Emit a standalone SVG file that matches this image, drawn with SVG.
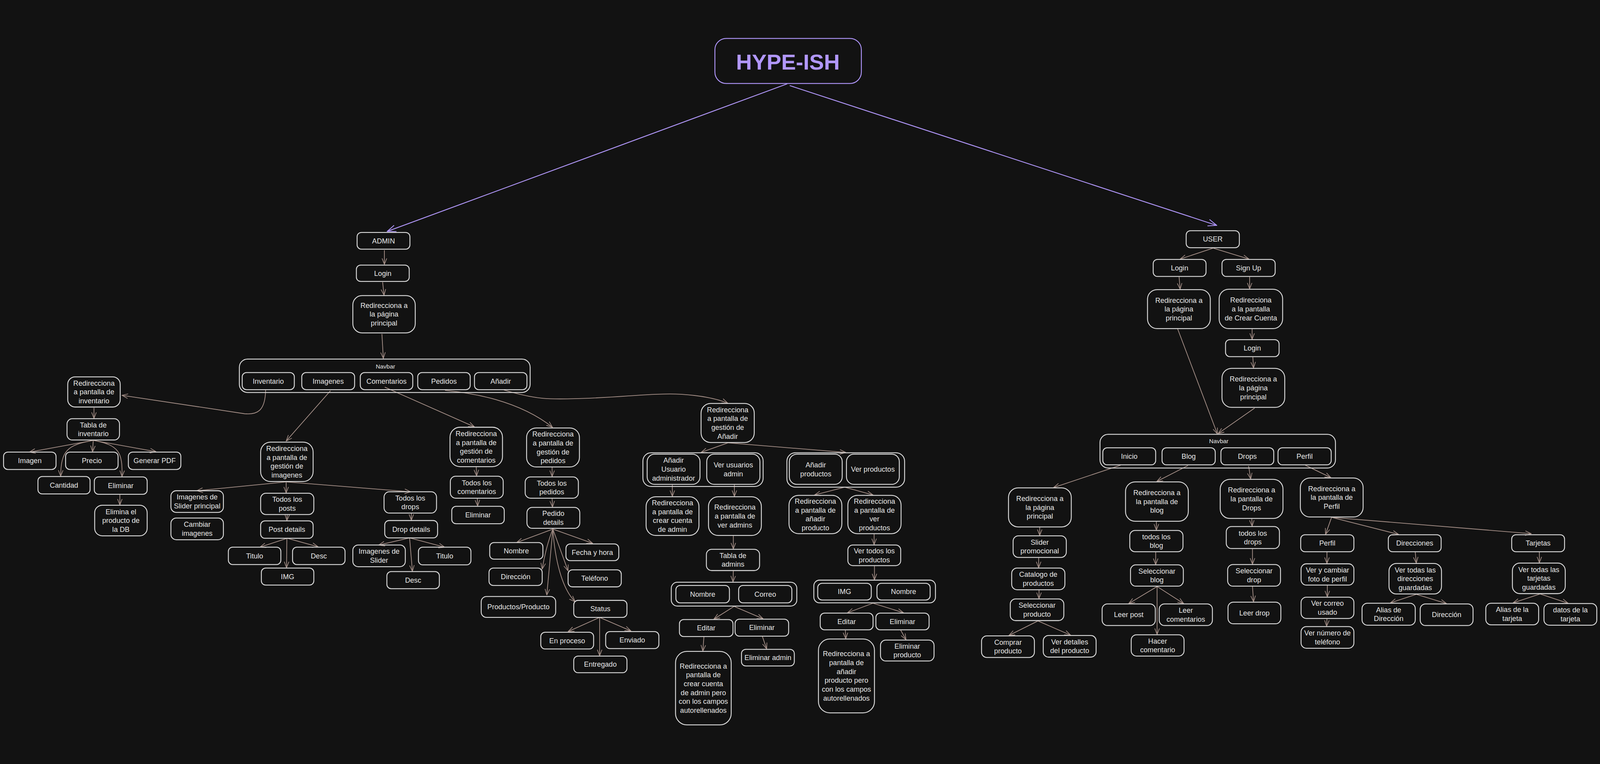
<svg xmlns="http://www.w3.org/2000/svg" width="4512" height="1955" viewBox="0 0 4512 1955">
<style>
svg{width:100%;height:100%;background:#121212}
.n{fill:none;stroke:#dcdcdc;stroke-width:2.5}
.t,.w{font-family:"Liberation Sans",Arial,sans-serif;font-size:20px;fill:#e8e8e8;text-anchor:middle}
.lbl{font-size:17px}
.c{fill:none;stroke:#a8928a;stroke-width:2;marker-end:url(#ah)}
.cp{fill:none;stroke:#b197fc;stroke-width:2.5;marker-end:url(#ahp)}
.ttl{fill:none;stroke:#b197fc;stroke-width:2.5}
.tt{font-family:"Liberation Sans",Arial,sans-serif;font-size:62px;font-weight:bold;fill:#b197fc;text-anchor:middle}
</style>
<defs>
<marker id="ah" viewBox="0 0 20 20" refX="19" refY="10" markerWidth="18" markerHeight="18" markerUnits="userSpaceOnUse" orient="auto"><path d="M1,3 L19,10 L1,17" fill="none" stroke="#a8928a" stroke-width="2" stroke-linecap="round"/></marker>
<marker id="ahp" viewBox="0 0 20 20" refX="19" refY="10" markerWidth="26" markerHeight="26" markerUnits="userSpaceOnUse" orient="auto"><path d="M1,3 L19,10 L1,17" fill="none" stroke="#b197fc" stroke-width="1.8" stroke-linecap="round"/></marker>
</defs>
<rect width="4512" height="1955" fill="#121212"/>

<g id="connectors">
<path class="cp" d="M2220,137 L1092,553"/>
<path class="cp" d="M2227,142 L3431,536"/>
<path class="c" d="M1084,606 L1084,646"/>
<path class="c" d="M1079,696 L1083,733"/>
<path class="c" d="M1077,842 L1081,911"/>
<path class="c" d="M749,1000 C748,1060 725,1070 690,1067 L344,1015"/>
<path class="c" d="M932,1002 L807,1144"/>
<path class="c" d="M1085,992 L1338,1104"/>
<path class="c" d="M1255,1001 Q1450,1020 1558,1105"/>
<path class="c" d="M1421,1000 C1520,1030 1560,1026 1640,1024 C1760,1020 1850,1008 1920,1012 C1980,1016 2020,1024 2052,1037"/>
<path class="c" d="M265,1050 L265,1080"/>
<path class="c" d="M263,1142 L83,1175"/>
<path class="c" d="M263,1142 C190,1155 172,1170 171,1243"/>
<path class="c" d="M263,1142 L261,1174"/>
<path class="c" d="M263,1142 C335,1155 346,1175 344,1244"/>
<path class="c" d="M263,1142 L440,1174"/>
<path class="c" d="M338,1295 L338,1324"/>
<path class="c" d="M807,1259 L555,1284"/>
<path class="c" d="M807,1259 L807,1290"/>
<path class="c" d="M807,1259 L1158,1287"/>
<path class="c" d="M810,1352 L809,1368"/>
<path class="c" d="M810,1418 L733,1443"/>
<path class="c" d="M810,1418 L897,1442"/>
<path class="c" d="M809,1418 L808,1501"/>
<path class="c" d="M1160,1347 L1160,1367"/>
<path class="c" d="M1155,1417 L1068,1437"/>
<path class="c" d="M1155,1417 L1254,1443"/>
<path class="c" d="M1155,1417 L1163,1511"/>
<path class="c" d="M1343,1216 L1344,1242"/>
<path class="c" d="M1346,1305 L1347,1327"/>
<path class="c" d="M1557,1217 L1557,1244"/>
<path class="c" d="M1557,1305 L1558,1330"/>
<path class="c" d="M1559,1392 L1457,1430"/>
<path class="c" d="M1559,1392 Q1540,1440 1529,1505"/>
<path class="c" d="M1559,1392 L1542,1578"/>
<path class="c" d="M1559,1392 C1565,1480 1585,1560 1622,1597"/>
<path class="c" d="M1559,1392 Q1580,1450 1602,1510"/>
<path class="c" d="M1559,1392 L1671,1432"/>
<path class="c" d="M1691,1641 L1602,1681"/>
<path class="c" d="M1691,1641 L1691,1749"/>
<path class="c" d="M1691,1641 L1779,1679"/>
<path class="c" d="M2053,1149 L1977,1176"/>
<path class="c" d="M2053,1149 L2385,1176"/>
<path class="c" d="M1896,1267 L1896,1300"/>
<path class="c" d="M2071,1267 L2071,1300"/>
<path class="c" d="M2068,1411 L2068,1448"/>
<path class="c" d="M2068,1510 L2067,1541"/>
<path class="c" d="M2070,1610 L2013,1646"/>
<path class="c" d="M2070,1610 L2152,1645"/>
<path class="c" d="M1985,1696 L1982,1736"/>
<path class="c" d="M2150,1695 L2162,1730"/>
<path class="c" d="M2382,1274 L2297,1296"/>
<path class="c" d="M2382,1274 L2462,1296"/>
<path class="c" d="M2465,1406 L2465,1436"/>
<path class="c" d="M2466,1496 L2466,1535"/>
<path class="c" d="M2462,1601 L2390,1628"/>
<path class="c" d="M2462,1601 L2548,1628"/>
<path class="c" d="M2384,1677 L2385,1701"/>
<path class="c" d="M2540,1677 L2555,1704"/>
<path class="c" d="M3421,600 L3328,631"/>
<path class="c" d="M3421,600 L3522,631"/>
<path class="c" d="M3325,681 L3328,716"/>
<path class="c" d="M3524,681 L3524,715"/>
<path class="c" d="M3531,828 L3531,857"/>
<path class="c" d="M3533,907 L3535,938"/>
<path class="c" d="M3321,828 L3433,1124"/>
<path class="c" d="M3538,1051 L3435,1123"/>
<path class="c" d="M3160,1212 L2971,1275"/>
<path class="c" d="M3350,1213 L3262,1258"/>
<path class="c" d="M3521,1214 L3527,1251"/>
<path class="c" d="M3681,1212 L3753,1247"/>
<path class="c" d="M2932,1387 L2932,1410"/>
<path class="c" d="M2929,1473 L2929,1501"/>
<path class="c" d="M2930,1564 L2930,1588"/>
<path class="c" d="M2927,1651 L2845,1692"/>
<path class="c" d="M2927,1651 L3019,1691"/>
<path class="c" d="M3261,1371 L3261,1395"/>
<path class="c" d="M3259,1457 L3259,1492"/>
<path class="c" d="M3263,1554 L3183,1602"/>
<path class="c" d="M3263,1554 L3338,1602"/>
<path class="c" d="M3263,1554 L3263,1689"/>
<path class="c" d="M3530,1363 L3531,1384"/>
<path class="c" d="M3532,1448 L3532,1491"/>
<path class="c" d="M3532,1554 L3535,1597"/>
<path class="c" d="M3755,1359 L3738,1407"/>
<path class="c" d="M3755,1359 L3944,1407"/>
<path class="c" d="M3755,1359 L4318,1405"/>
<path class="c" d="M3742,1457 L3742,1489"/>
<path class="c" d="M3743,1551 L3743,1583"/>
<path class="c" d="M3742,1645 L3741,1666"/>
<path class="c" d="M3991,1457 L3994,1488"/>
<path class="c" d="M3994,1576 L3921,1600"/>
<path class="c" d="M3994,1576 L4079,1602"/>
<path class="c" d="M4341,1457 L4341,1487"/>
<path class="c" d="M4343,1575 L4267,1600"/>
<path class="c" d="M4343,1575 L4422,1601"/>
</g>

<g id="title"><rect class="ttl" x="2016" y="9" width="413" height="127" rx="32"/><text class="tt" x="2222" y="97">HYPE-ISH</text></g>

<!-- ADMIN side -->
<g id="admin"><rect class="n" x="1007" y="556" width="149" height="47" rx="12"/><text class="t" x="1081.5" y="586.5">ADMIN</text></g>
<g id="admin-login"><rect class="n" x="1005" y="648" width="149" height="46" rx="12"/><text class="t" x="1079.5" y="678">Login</text></g>
<g id="admin-redir-pp"><rect class="n" x="995" y="734" width="176" height="105" rx="26"/><text class="t" y="768.5"><tspan x="1083">Redirecciona a</tspan><tspan x="1083" dy="25">la página</tspan><tspan x="1083" dy="25">principal</tspan></text></g>
<g id="admin-navbar"><rect class="n" x="675" y="913" width="820" height="94" rx="23"/><text class="t lbl" x="1087" y="939">Navbar</text></g>
<g id="nav-inventario"><rect class="n" x="683" y="951" width="147" height="48" rx="12"/><text class="t" x="756.5" y="982">Inventario</text></g>
<g id="nav-imagenes"><rect class="n" x="851" y="951" width="149" height="48" rx="12"/><text class="t" x="925.5" y="982">Imagenes</text></g>
<g id="nav-comentarios"><rect class="n" x="1016" y="951" width="148" height="48" rx="12"/><text class="t" x="1090" y="982">Comentarios</text></g>
<g id="nav-pedidos"><rect class="n" x="1178" y="951" width="148" height="48" rx="12"/><text class="t" x="1252" y="982">Pedidos</text></g>
<g id="nav-anadir"><rect class="n" x="1338" y="951" width="148" height="48" rx="12"/><text class="t" x="1412" y="982">Añadir</text></g>

<g id="redir-inventario"><rect class="n" x="191" y="963" width="148" height="85" rx="21"/><text class="t" y="987.5"><tspan x="265">Redirecciona</tspan><tspan x="265" dy="25">a pantalla de</tspan><tspan x="265" dy="25">inventario</tspan></text></g>
<g id="tabla-inventario"><rect class="n" x="189" y="1081" width="148" height="60" rx="15"/><text class="t" y="1105.5"><tspan x="263">Tabla de</tspan><tspan x="263" dy="25">inventario</tspan></text></g>
<g id="inv-imagen"><rect class="n" x="10" y="1175" width="148" height="49" rx="12"/><text class="t" x="84" y="1206.5">Imagen</text></g>
<g id="inv-precio"><rect class="n" x="185" y="1175" width="148" height="49" rx="12"/><text class="t" x="259" y="1206.5">Precio</text></g>
<g id="inv-pdf"><rect class="n" x="362" y="1175" width="148" height="49" rx="12"/><text class="t" x="436" y="1206.5">Generar PDF</text></g>
<g id="inv-cantidad"><rect class="n" x="107" y="1244" width="147" height="49" rx="12"/><text class="t" x="180.5" y="1275.5">Cantidad</text></g>
<g id="inv-eliminar"><rect class="n" x="266" y="1245" width="149" height="49" rx="12"/><text class="t" x="340.5" y="1276.5">Eliminar</text></g>
<g id="inv-elimina-db"><rect class="n" x="267" y="1325" width="148" height="86" rx="21"/><text class="t" y="1350"><tspan x="341">Elimina el</tspan><tspan x="341" dy="25">producto de</tspan><tspan x="341" dy="25">la DB</tspan></text></g>

<g id="redir-imagenes"><rect class="n" x="735" y="1147" width="148" height="111" rx="28"/><text class="t" y="1172"><tspan x="809">Redirecciona</tspan><tspan x="809" dy="25">a pantalla de</tspan><tspan x="809" dy="25">gestión de</tspan><tspan x="809" dy="25">imagenes</tspan></text></g>
<g id="img-slider"><rect class="n" x="482" y="1284" width="148" height="61" rx="15"/><text class="t" y="1309"><tspan x="556">Imagenes de</tspan><tspan x="556" dy="25">Slider principal</tspan></text></g>
<g id="img-cambiar"><rect class="n" x="482" y="1361" width="148" height="61" rx="15"/><text class="t" y="1386"><tspan x="556">Cambiar</tspan><tspan x="556" dy="25">imagenes</tspan></text></g>
<g id="img-posts"><rect class="n" x="735" y="1291" width="150" height="60" rx="15"/><text class="t" y="1315.5"><tspan x="810">Todos los</tspan><tspan x="810" dy="25">posts</tspan></text></g>
<g id="post-details"><rect class="n" x="735" y="1369" width="148" height="49" rx="12"/><text class="t" x="809" y="1400.5">Post details</text></g>
<g id="post-titulo"><rect class="n" x="644" y="1443" width="148" height="49" rx="12"/><text class="t" x="718" y="1474.5">Titulo</text></g>
<g id="post-desc"><rect class="n" x="825" y="1443" width="148" height="49" rx="12"/><text class="t" x="899" y="1474.5">Desc</text></g>
<g id="post-img"><rect class="n" x="737" y="1502" width="148" height="48" rx="12"/><text class="t" x="811" y="1533">IMG</text></g>
<g id="img-drops"><rect class="n" x="1083" y="1287" width="148" height="60" rx="15"/><text class="t" y="1311.5"><tspan x="1157">Todos los</tspan><tspan x="1157" dy="25">drops</tspan></text></g>
<g id="drop-details"><rect class="n" x="1085" y="1368" width="149" height="49" rx="12"/><text class="t" x="1159.5" y="1399.5">Drop details</text></g>
<g id="drop-slider"><rect class="n" x="995" y="1437" width="148" height="61" rx="15"/><text class="t" y="1462"><tspan x="1069">Imagenes de</tspan><tspan x="1069" dy="25">Slider</tspan></text></g>
<g id="drop-titulo"><rect class="n" x="1180" y="1443" width="148" height="50" rx="12"/><text class="t" x="1254" y="1475">Titulo</text></g>
<g id="drop-desc"><rect class="n" x="1091" y="1512" width="148" height="48" rx="12"/><text class="t" x="1165" y="1543">Desc</text></g>

<g id="redir-comentarios"><rect class="n" x="1269" y="1105" width="148" height="111" rx="28"/><text class="t" y="1130"><tspan x="1343">Redirecciona</tspan><tspan x="1343" dy="25">a pantalla de</tspan><tspan x="1343" dy="25">gestión de</tspan><tspan x="1343" dy="25">comentarios</tspan></text></g>
<g id="todos-comentarios"><rect class="n" x="1270" y="1243" width="149" height="62" rx="15"/><text class="t" y="1268.5"><tspan x="1344.5">Todos los</tspan><tspan x="1344.5" dy="25">comentarios</tspan></text></g>
<g id="coment-eliminar"><rect class="n" x="1274" y="1328" width="148" height="49" rx="12"/><text class="t" x="1348" y="1359.5">Eliminar</text></g>

<g id="redir-pedidos"><rect class="n" x="1485" y="1107" width="149" height="110" rx="27"/><text class="w" y="1131.5"><tspan x="1559.5">Redirecciona</tspan><tspan x="1559.5" dy="25">a pantalla de</tspan><tspan x="1559.5" dy="25">gestión de</tspan><tspan x="1559.5" dy="25">pedidos</tspan></text></g>
<g id="todos-pedidos"><rect class="n" x="1481" y="1245" width="150" height="60" rx="15"/><text class="w" y="1269.5"><tspan x="1556">Todos los</tspan><tspan x="1556" dy="25">pedidos</tspan></text></g>
<g id="pedido-details"><rect class="n" x="1486" y="1331" width="149" height="59" rx="15"/><text class="w" y="1355"><tspan x="1560.5">Pedido</tspan><tspan x="1560.5" dy="25">details</tspan></text></g>
<g id="ped-nombre"><rect class="n" x="1381" y="1430" width="150" height="47" rx="12"/><text class="w" x="1456" y="1460.5">Nombre</text></g>
<g id="ped-direccion"><rect class="n" x="1379" y="1502" width="150" height="49" rx="12"/><text class="w" x="1454" y="1533.5">Dirección</text></g>
<g id="ped-productos"><rect class="n" x="1357" y="1582" width="210" height="59" rx="15"/><text class="w" x="1462" y="1618.5">Productos/Producto</text></g>
<g id="ped-fecha"><rect class="n" x="1596" y="1434" width="149" height="47" rx="12"/><text class="w" x="1670.5" y="1464.5">Fecha y hora</text></g>
<g id="ped-telefono"><rect class="n" x="1602" y="1507" width="150" height="48" rx="12"/><text class="w" x="1677" y="1538">Teléfono</text></g>
<g id="ped-status"><rect class="n" x="1618" y="1593" width="150" height="48" rx="12"/><text class="w" x="1693" y="1624">Status</text></g>
<g id="st-proceso"><rect class="n" x="1525" y="1683" width="149" height="47" rx="12"/><text class="w" x="1599.5" y="1713.5">En proceso</text></g>
<g id="st-enviado"><rect class="n" x="1708" y="1681" width="150" height="48" rx="12"/><text class="w" x="1783" y="1712">Enviado</text></g>
<g id="st-entregado"><rect class="n" x="1618" y="1750" width="150" height="47" rx="12"/><text class="w" x="1693" y="1780.5">Entregado</text></g>

<g id="redir-anadir"><rect class="n" x="1977" y="1038" width="150" height="110" rx="27"/><text class="w" y="1062.5"><tspan x="2052">Redirecciona</tspan><tspan x="2052" dy="25">a pantalla de</tspan><tspan x="2052" dy="25">gestión de</tspan><tspan x="2052" dy="25">Añadir</tspan></text></g>
<g id="grupo-usuarios"><rect class="n" x="1813" y="1177" width="339" height="95" rx="23"/></g>
<g id="anadir-usuario"><rect class="n" x="1825" y="1181" width="149" height="85" rx="21"/><text class="w" y="1205.5"><tspan x="1899.5">Añadir</tspan><tspan x="1899.5" dy="25">Usuario</tspan><tspan x="1899.5" dy="25">administrador</tspan></text></g>
<g id="ver-usuarios"><rect class="n" x="1993" y="1181" width="150" height="85" rx="21"/><text class="w" y="1218"><tspan x="2068">Ver usuarios</tspan><tspan x="2068" dy="25">admin</tspan></text></g>
<g id="redir-crear-admin"><rect class="n" x="1822" y="1301" width="149" height="109" rx="27"/><text class="w" y="1325"><tspan x="1896.5">Redirecciona</tspan><tspan x="1896.5" dy="25">a pantalla de</tspan><tspan x="1896.5" dy="25">crear cuenta</tspan><tspan x="1896.5" dy="25">de admin</tspan></text></g>
<g id="redir-ver-admins"><rect class="n" x="1998" y="1301" width="149" height="109" rx="27"/><text class="w" y="1337.5"><tspan x="2072.5">Redirecciona</tspan><tspan x="2072.5" dy="25">a pantalla de</tspan><tspan x="2072.5" dy="25">ver admins</tspan></text></g>
<g id="tabla-admins"><rect class="n" x="1992" y="1449" width="150" height="60" rx="15"/><text class="w" y="1473.5"><tspan x="2067">Tabla de</tspan><tspan x="2067" dy="25">admins</tspan></text></g>
<g id="grupo-admin-campos"><rect class="n" x="1893" y="1542" width="354" height="67" rx="17"/></g>
<g id="admin-nombre"><rect class="n" x="1906" y="1551" width="151" height="49" rx="12"/><text class="w" x="1981.5" y="1582.5">Nombre</text></g>
<g id="admin-correo"><rect class="n" x="2083" y="1551" width="150" height="49" rx="12"/><text class="w" x="2158" y="1582.5">Correo</text></g>
<g id="admin-editar"><rect class="n" x="1916" y="1647" width="151" height="48" rx="12"/><text class="w" x="1991.5" y="1678">Editar</text></g>
<g id="admin-eliminar"><rect class="n" x="2073" y="1646" width="151" height="48" rx="12"/><text class="w" x="2148.5" y="1677">Eliminar</text></g>
<g id="eliminar-admin"><rect class="n" x="2091" y="1731" width="149" height="47" rx="12"/><text class="w" x="2165.5" y="1761.5">Eliminar admin</text></g>
<g id="redir-editar-admin"><rect class="n" x="1905" y="1737" width="157" height="207" rx="32"/><text class="w" y="1785"><tspan x="1983.5">Redirecciona a</tspan><tspan x="1983.5" dy="25">pantalla de</tspan><tspan x="1983.5" dy="25">crear cuenta</tspan><tspan x="1983.5" dy="25">de admin pero</tspan><tspan x="1983.5" dy="25">con los campos</tspan><tspan x="1983.5" dy="25">autorellenados</tspan></text></g>

<g id="grupo-productos"><rect class="n" x="2219" y="1177" width="332" height="97" rx="24"/></g>
<g id="anadir-productos"><rect class="n" x="2226" y="1181" width="149" height="85" rx="21"/><text class="w" y="1218"><tspan x="2300.5">Añadir</tspan><tspan x="2300.5" dy="25">productos</tspan></text></g>
<g id="ver-productos"><rect class="n" x="2387" y="1181" width="149" height="85" rx="21"/><text class="w" x="2461.5" y="1230.5">Ver productos</text></g>
<g id="redir-anadir-producto"><rect class="n" x="2225" y="1297" width="149" height="108" rx="27"/><text class="w" y="1320.5"><tspan x="2299.5">Redirecciona</tspan><tspan x="2299.5" dy="25">a pantalla de</tspan><tspan x="2299.5" dy="25">añadir</tspan><tspan x="2299.5" dy="25">producto</tspan></text></g>
<g id="redir-ver-productos"><rect class="n" x="2391" y="1297" width="150" height="108" rx="27"/><text class="w" y="1320.5"><tspan x="2466">Redirecciona</tspan><tspan x="2466" dy="25">a pantalla de</tspan><tspan x="2466" dy="25">ver</tspan><tspan x="2466" dy="25">productos</tspan></text></g>
<g id="ver-todos-productos"><rect class="n" x="2391" y="1437" width="149" height="58" rx="14"/><text class="w" y="1460.5"><tspan x="2465.5">Ver todos los</tspan><tspan x="2465.5" dy="25">productos</tspan></text></g>
<g id="grupo-prod-campos"><rect class="n" x="2295" y="1536" width="343" height="64" rx="16"/></g>
<g id="prod-img"><rect class="n" x="2306" y="1545" width="151" height="47" rx="12"/><text class="w" x="2381.5" y="1575.5">IMG</text></g>
<g id="prod-nombre"><rect class="n" x="2473" y="1545" width="150" height="47" rx="12"/><text class="w" x="2548" y="1575.5">Nombre</text></g>
<g id="prod-editar"><rect class="n" x="2313" y="1629" width="149" height="47" rx="12"/><text class="w" x="2387.5" y="1659.5">Editar</text></g>
<g id="prod-eliminar"><rect class="n" x="2470" y="1629" width="150" height="47" rx="12"/><text class="w" x="2545" y="1659.5">Eliminar</text></g>
<g id="eliminar-producto"><rect class="n" x="2483" y="1705" width="151" height="59" rx="15"/><text class="w" y="1729"><tspan x="2558.5">Eliminar</tspan><tspan x="2558.5" dy="25">producto</tspan></text></g>
<g id="redir-editar-producto"><rect class="n" x="2308" y="1702" width="158" height="208" rx="32"/><text class="w" y="1750.5"><tspan x="2387">Redirecciona a</tspan><tspan x="2387" dy="25">pantalla de</tspan><tspan x="2387" dy="25">añadir</tspan><tspan x="2387" dy="25">producto pero</tspan><tspan x="2387" dy="25">con los campos</tspan><tspan x="2387" dy="25">autorellenados</tspan></text></g>

<!-- USER side -->
<g id="user"><rect class="n" x="3345" y="551" width="150" height="48" rx="12"/><text class="t" x="3420" y="582">USER</text></g>
<g id="user-login"><rect class="n" x="3252" y="632" width="149" height="48" rx="12"/><text class="t" x="3326.5" y="663">Login</text></g>
<g id="user-signup"><rect class="n" x="3446" y="632" width="150" height="48" rx="12"/><text class="t" x="3521" y="663">Sign Up</text></g>
<g id="user-redir-pp"><rect class="n" x="3236" y="717" width="177" height="110" rx="27"/><text class="t" y="754"><tspan x="3324.5">Redirecciona a</tspan><tspan x="3324.5" dy="25">la página</tspan><tspan x="3324.5" dy="25">principal</tspan></text></g>
<g id="user-redir-crear"><rect class="n" x="3438" y="716" width="179" height="111" rx="27"/><text class="t" y="753.5"><tspan x="3527.5">Redirecciona</tspan><tspan x="3527.5" dy="25">a la pantalla</tspan><tspan x="3527.5" dy="25">de Crear Cuenta</tspan></text></g>
<g id="user-login2"><rect class="n" x="3456" y="858" width="151" height="48" rx="12"/><text class="t" x="3531.5" y="889">Login</text></g>
<g id="user-redir-pp2"><rect class="n" x="3446" y="939" width="177" height="110" rx="27"/><text class="t" y="976"><tspan x="3534.5">Redirecciona a</tspan><tspan x="3534.5" dy="25">la página</tspan><tspan x="3534.5" dy="25">principal</tspan></text></g>
<g id="user-navbar"><rect class="n" x="3102" y="1125" width="664" height="95" rx="23"/><text class="t lbl" x="3437" y="1150">Navbar</text></g>
<g id="nav-inicio"><rect class="n" x="3110" y="1163" width="149" height="48" rx="12"/><text class="t" x="3184.5" y="1194">Inicio</text></g>
<g id="nav-blog"><rect class="n" x="3277" y="1163" width="150" height="48" rx="12"/><text class="t" x="3352" y="1194">Blog</text></g>
<g id="nav-drops"><rect class="n" x="3443" y="1163" width="149" height="48" rx="12"/><text class="t" x="3517.5" y="1194">Drops</text></g>
<g id="nav-perfil"><rect class="n" x="3604" y="1163" width="150" height="48" rx="12"/><text class="t" x="3679" y="1194">Perfil</text></g>

<g id="inicio-redir"><rect class="n" x="2844" y="1276" width="177" height="110" rx="27"/><text class="t" y="1313"><tspan x="2932.5">Redirecciona a</tspan><tspan x="2932.5" dy="25">la página</tspan><tspan x="2932.5" dy="25">principal</tspan></text></g>
<g id="slider-promo"><rect class="n" x="2857" y="1411" width="150" height="61" rx="15"/><text class="t" y="1436"><tspan x="2932">Slider</tspan><tspan x="2932" dy="25">promocional</tspan></text></g>
<g id="catalogo"><rect class="n" x="2853" y="1502" width="150" height="61" rx="15"/><text class="t" y="1527"><tspan x="2928">Catalogo de</tspan><tspan x="2928" dy="25">productos</tspan></text></g>
<g id="sel-producto"><rect class="n" x="2849" y="1589" width="151" height="61" rx="15"/><text class="t" y="1614"><tspan x="2924.5">Seleccionar</tspan><tspan x="2924.5" dy="25">producto</tspan></text></g>
<g id="comprar"><rect class="n" x="2768" y="1693" width="149" height="61" rx="15"/><text class="t" y="1718"><tspan x="2842.5">Comprar</tspan><tspan x="2842.5" dy="25">producto</tspan></text></g>
<g id="ver-detalles"><rect class="n" x="2942" y="1692" width="149" height="61" rx="15"/><text class="t" y="1717"><tspan x="3016.5">Ver detalles</tspan><tspan x="3016.5" dy="25">del producto</tspan></text></g>
<g id="blog-redir"><rect class="n" x="3174" y="1259" width="177" height="111" rx="27"/><text class="t" y="1296.5"><tspan x="3262.5">Redirecciona a</tspan><tspan x="3262.5" dy="25">la pantalla de</tspan><tspan x="3262.5" dy="25">blog</tspan></text></g>
<g id="todos-blog"><rect class="n" x="3186" y="1396" width="150" height="60" rx="15"/><text class="t" y="1420.5"><tspan x="3261">todos los</tspan><tspan x="3261" dy="25">blog</tspan></text></g>
<g id="sel-blog"><rect class="n" x="3188" y="1493" width="149" height="60" rx="15"/><text class="t" y="1517.5"><tspan x="3262.5">Seleccionar</tspan><tspan x="3262.5" dy="25">blog</tspan></text></g>
<g id="leer-post"><rect class="n" x="3108" y="1603" width="150" height="61" rx="15"/><text class="t" x="3183" y="1640.5">Leer post</text></g>
<g id="leer-comentarios"><rect class="n" x="3269" y="1603" width="150" height="61" rx="15"/><text class="t" y="1628"><tspan x="3344">Leer</tspan><tspan x="3344" dy="25">comentarios</tspan></text></g>
<g id="hacer-comentario"><rect class="n" x="3190" y="1690" width="149" height="60" rx="15"/><text class="t" y="1714.5"><tspan x="3264.5">Hacer</tspan><tspan x="3264.5" dy="25">comentario</tspan></text></g>
<g id="drops-redir"><rect class="n" x="3441" y="1252" width="177" height="110" rx="27"/><text class="t" y="1289"><tspan x="3529.5">Redirecciona a</tspan><tspan x="3529.5" dy="25">la pantalla de</tspan><tspan x="3529.5" dy="25">Drops</tspan></text></g>
<g id="todos-drops"><rect class="n" x="3458" y="1385" width="150" height="62" rx="15"/><text class="t" y="1410.5"><tspan x="3533">todos los</tspan><tspan x="3533" dy="25">drops</tspan></text></g>
<g id="sel-drop"><rect class="n" x="3462" y="1492" width="149" height="61" rx="15"/><text class="t" y="1517"><tspan x="3536.5">Seleccionar</tspan><tspan x="3536.5" dy="25">drop</tspan></text></g>
<g id="leer-drop"><rect class="n" x="3463" y="1598" width="149" height="61" rx="15"/><text class="t" x="3537.5" y="1635.5">Leer drop</text></g>
<g id="perfil-redir"><rect class="n" x="3667" y="1248" width="177" height="110" rx="27"/><text class="t" y="1285"><tspan x="3755.5">Redirecciona a</tspan><tspan x="3755.5" dy="25">la pantalla de</tspan><tspan x="3755.5" dy="25">Perfil</tspan></text></g>
<g id="perfil"><rect class="n" x="3668" y="1408" width="150" height="48" rx="12"/><text class="t" x="3743" y="1439">Perfil</text></g>
<g id="direcciones"><rect class="n" x="3915" y="1408" width="149" height="48" rx="12"/><text class="t" x="3989.5" y="1439">Direcciones</text></g>
<g id="tarjetas"><rect class="n" x="4263" y="1408" width="149" height="48" rx="12"/><text class="t" x="4337.5" y="1439">Tarjetas</text></g>
<g id="ver-foto"><rect class="n" x="3669" y="1490" width="149" height="60" rx="15"/><text class="t" y="1514.5"><tspan x="3743.5">Ver y cambiar</tspan><tspan x="3743.5" dy="25">foto de perfil</tspan></text></g>
<g id="ver-correo"><rect class="n" x="3669" y="1584" width="149" height="60" rx="15"/><text class="t" y="1608.5"><tspan x="3743.5">Ver correo</tspan><tspan x="3743.5" dy="25">usado</tspan></text></g>
<g id="ver-telefono"><rect class="n" x="3669" y="1667" width="149" height="61" rx="15"/><text class="t" y="1692"><tspan x="3743.5">Ver número de</tspan><tspan x="3743.5" dy="25">teléfono</tspan></text></g>
<g id="ver-direcciones"><rect class="n" x="3917" y="1489" width="148" height="86" rx="21"/><text class="t" y="1514"><tspan x="3991">Ver todas las</tspan><tspan x="3991" dy="25">direcciones</tspan><tspan x="3991" dy="25">guardadas</tspan></text></g>
<g id="alias-direccion"><rect class="n" x="3841" y="1601" width="150" height="62" rx="15"/><text class="t" y="1626.5"><tspan x="3916">Alias de</tspan><tspan x="3916" dy="25">Dirección</tspan></text></g>
<g id="direccion"><rect class="n" x="4005" y="1603" width="149" height="61" rx="15"/><text class="t" x="4079.5" y="1640.5">Dirección</text></g>
<g id="ver-tarjetas"><rect class="n" x="4265" y="1488" width="149" height="86" rx="21"/><text class="t" y="1513"><tspan x="4339.5">Ver todas las</tspan><tspan x="4339.5" dy="25">tarjetas</tspan><tspan x="4339.5" dy="25">guardadas</tspan></text></g>
<g id="alias-tarjeta"><rect class="n" x="4190" y="1601" width="149" height="61" rx="15"/><text class="t" y="1626"><tspan x="4264.5">Alias de la</tspan><tspan x="4264.5" dy="25">tarjeta</tspan></text></g>
<g id="datos-tarjeta"><rect class="n" x="4354" y="1602" width="149" height="61" rx="15"/><text class="t" y="1627"><tspan x="4428.5">datos de la</tspan><tspan x="4428.5" dy="25">tarjeta</tspan></text></g>
</svg>
